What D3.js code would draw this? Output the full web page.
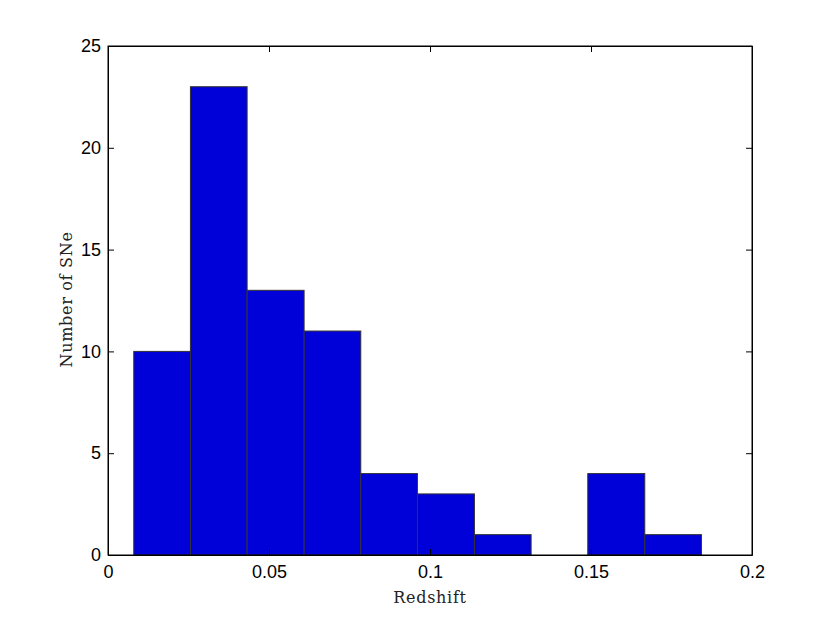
<!DOCTYPE html>
<html>
<head>
<meta charset="utf-8">
<script src="https://cdn.jsdelivr.net/npm/d3@7/dist/d3.min.js"></script>
<style>
  body { margin: 0; background: #fff; }
  svg { display: block; }
  .tick text { font-family: "Liberation Sans", Arial, sans-serif; font-size: 18px; fill: #000; }
</style>
</head>
<body>
<svg id="chart"></svg>
<script>
// histogram bin edges (redshift) and counts per bin
let binEdges = [0.0080, 0.0256, 0.0432, 0.0609, 0.0785, 0.0961, 0.1138, 0.1314, 0.1490, 0.1667, 0.1843];
let counts = [10, 23, 13, 11, 4, 3, 1, 0, 4, 1];
let xTicks = [0, 0.05, 0.1, 0.15, 0.2];
let yTicks = [0, 5, 10, 15, 20, 25];

let width = 830;
let height = 624;
let margin = { top: 46, bot: 69, left: 108, right: 78 };
let bodyWidth = width - margin.left - margin.right;
let bodyHeight = height - margin.top - margin.bot;

let svg = d3.select('#chart')
  .attr('width', width)
  .attr('height', height);

let xScale = d3.scaleLinear().domain([0, 0.2]).range([0, bodyWidth]);
let yScale = d3.scaleLinear().domain([0, 25]).range([bodyHeight, 0]);

let body = svg.append('g')
  .attr('transform', `translate(${margin.left},${margin.top})`);

let bins = counts.map((c, i) => ({ x0: binEdges[i], x1: binEdges[i + 1], n: c }));

body.selectAll('rect.bar')
  .data(bins.filter(d => d.n > 0))
  .enter().append('rect')
  .attr('class', 'bar')
  .attr('x', d => xScale(d.x0))
  .attr('y', d => yScale(d.n))
  .attr('width', d => xScale(d.x1) - xScale(d.x0))
  .attr('height', d => yScale(0) - yScale(d.n))
  .style('fill', '#0000d8')
  .style('stroke', '#333')
  .style('stroke-width', '1px');

// axes, ticks inward like matlab
let tl = 6;
body.append('g')
  .attr('transform', `translate(0,${bodyHeight})`)
  .call(d3.axisBottom(xScale).tickValues(xTicks).tickFormat(d3.format('')).tickSizeInner(-tl).tickSizeOuter(0).tickPadding(10));
body.append('g')
  .call(d3.axisTop(xScale).tickValues(xTicks).tickFormat('').tickSizeInner(-tl).tickSizeOuter(0));
body.append('g')
  .call(d3.axisLeft(yScale).tickValues(yTicks).tickSizeInner(-tl).tickSizeOuter(0).tickPadding(7));
body.append('g')
  .attr('transform', `translate(${bodyWidth},0)`)
  .call(d3.axisRight(yScale).tickValues(yTicks).tickFormat('').tickSizeInner(-tl).tickSizeOuter(0));

body.selectAll('.domain, .tick line').style('stroke', '#000').style('stroke-width', '1px');

body.append('rect')
  .attr('width', bodyWidth)
  .attr('height', bodyHeight)
  .style('fill', 'none')
  .style('stroke', '#000')
  .style('stroke-width', '1px');

// labels
svg.append('text')
  .attr('x', margin.left + bodyWidth / 2)
  .attr('y', 603)
  .style('text-anchor', 'middle')
  .style('font-family', '"DejaVu Serif", "Liberation Serif", serif')
  .style('font-size', '16px')
  .style('letter-spacing', '0.7px')
  .style('fill', '#222')
  .text('Redshift');
svg.append('text')
  .attr('transform', `translate(72,${margin.top + bodyHeight / 2 - 1}) rotate(-90)`)
  .style('text-anchor', 'middle')
  .style('font-family', '"DejaVu Serif", "Liberation Serif", serif')
  .style('font-size', '16px')
  .style('letter-spacing', '0.7px')
  .style('fill', '#222')
  .text('Number of SNe');
</script>
</body>
</html>
